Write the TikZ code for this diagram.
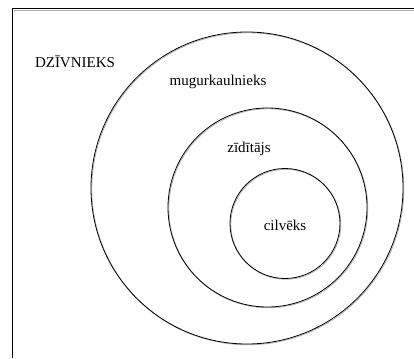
\documentclass[tikz,border=0pt]{standalone}
\usepackage{fontspec}
\setmainfont{Liberation Serif}
\tikzset{
  ring/.style={circle, draw=black, line width=0.8pt, inner sep=0pt},
  ringshadow/.style={circle, draw=black!30, line width=0.8pt, inner sep=0pt},
  lbl/.style={font=\fontsize{15}{18}\selectfont, inner sep=0pt},
  frame/.style={draw=black, line width=0.9pt},
  frameshadow/.style={draw=black!30, line width=0.7pt}
}
\begin{document}
\begin{tikzpicture}[x=1pt,y=-1pt]
\useasboundingbox (0,0) rectangle (414,358);
\fill[white] (0,0) rectangle (414,358);
% frame (cut off at right and bottom)
\coordinate (ftr) at (414,8.5);
\coordinate (ftl) at (12,8.5);
\coordinate (fbl) at (12,358);
\draw[frameshadow] (414,10.5) -- (13.5,10.5);
\draw[frame] (ftr) -- (ftl) -- (fbl);
% circle shadows
\node[ringshadow, minimum size=312pt] at (247.8,188.8) {};
\node[ringshadow, minimum size=199pt] at (268.3,208.3) {};
\node[ringshadow, minimum size=110pt] at (285.8,224.3) {};
% circles
\node[ring, minimum size=312pt] (outer) at (247,188) {};
\node[ring, minimum size=199pt] (middle) at (267.5,207.5) {};
\node[ring, minimum size=110pt] (inner) at (285,223.5) {};
% labels
\node[lbl] (dz) at (75,62) {DZĪVNIEKS};
\node[lbl] (mu) at (218,82) {mugurkaulnieks};
\node[lbl] (zi) at (249,149) {zīdītājs};
\node[lbl] (ci) at (285,225) {cilvēks};
\end{tikzpicture}
\end{document}
